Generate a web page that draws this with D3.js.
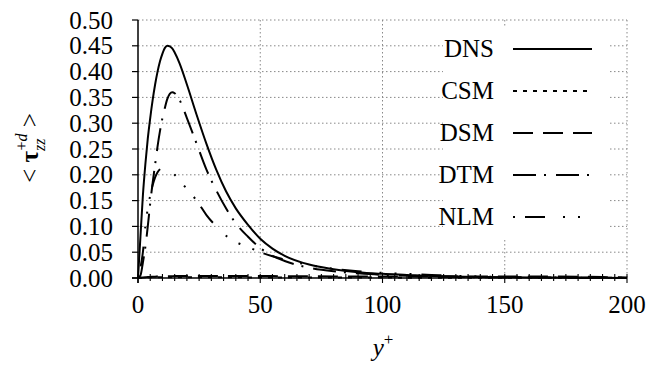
<!DOCTYPE html>
<html><head><meta charset="utf-8">
<script src="https://cdn.jsdelivr.net/npm/d3@7"></script>
</head><body style="margin:0">
<svg id="c" width="672" height="369"></svg>
<script>
const yPlus   = [0,1,2,3,4,5,6,7,8,9,10,11,12,13,14,15,17,20,24,28,32,36,40,45,50,55,60,70,80,90,100,110,120,130,140,150,160,170,180,190,200];
const dns     = [0,0.08,0.16,0.22,0.27,0.31,0.345,0.375,0.40,0.42,0.435,0.446,0.45,0.449,0.445,0.437,0.416,0.375,0.316,0.26,0.21,0.168,0.135,0.103,0.076,0.057,0.043,0.026,0.017,0.011,0.008,0.006,0.004,0.003,0.002,0.0015,0.001,0.0008,0.0005,0.0003,0];
const csm     = [0,0.0005,0.0008,0.001,0.0012,0.0013,0.0014,0.0015,0.0015,0.0015,0.0015,0.0015,0.0015,0.0015,0.0015,0.0015,0.0015,0.0015,0.0015,0.0014,0.0014,0.0013,0.0013,0.0012,0.0011,0.001,0.001,0.0009,0.0009,0.0008,0.0008,0.0007,0.0007,0.0006,0.0006,0.0005,0.0005,0.0004,0.0004,0.0003,0.0003];
const dsm     = [0,0.0005,0.001,0.0015,0.002,0.002,0.0025,0.0025,0.003,0.003,0.003,0.0032,0.0034,0.0035,0.0036,0.0037,0.0038,0.004,0.004,0.004,0.004,0.004,0.004,0.0039,0.0038,0.0037,0.0035,0.0033,0.0031,0.003,0.003,0.003,0.003,0.003,0.003,0.003,0.003,0.0028,0.0024,0.0018,0.001];
const dtm     = [0,0.005,0.03,0.06,0.10,0.145,0.185,0.22,0.255,0.285,0.31,0.33,0.347,0.357,0.36,0.358,0.345,0.31,0.26,0.21,0.17,0.135,0.106,0.08,0.058,0.043,0.033,0.02,0.013,0.009,0.006,0.0045,0.003,0.0022,0.0015,0.0012,0.001,0.0008,0.0005,0.0003,0];
const nlm     = [0,0.02,0.05,0.10,0.135,0.16,0.18,0.195,0.205,0.211,0.215,0.216,0.214,0.21,0.205,0.20,0.19,0.172,0.15,0.122,0.10,0.082,0.07,0.06,0.05,0.042,0.036,0.025,0.018,0.013,0.01,0.008,0.006,0.004,0.003,0.002,0.0015,0.001,0.0007,0.0004,0];
const seriesNames = ["DNS","CSM","DSM","DTM","NLM"];
const seriesData  = [dns, csm, dsm, dtm, nlm];
const seriesDash  = [null,"4,6","20,10","23,8,2,10","2,10,20,18,2,13,2,13"];
const xTicks = [0,50,100,150,200];
const xMinor = d3.range(0,201,5);
const yTicks = [0,0.05,0.10,0.15,0.20,0.25,0.30,0.35,0.40,0.45,0.50];

const FONT = '"Times New Roman"';
const svg = d3.select("#c");
const L=138,R=627,T=20,B=278;
const x = d3.scaleLinear().domain([0,200]).range([L,R]);
const y = d3.scaleLinear().domain([0,0.5]).range([B,T]);

// grid
const g = svg.append("g");
g.selectAll(".hg").data(yTicks.slice(1)).join("line")
 .attr("x1",L).attr("x2",R).attr("y1",d=>y(d)).attr("y2",d=>y(d))
 .attr("stroke","#888").attr("stroke-width",1).attr("stroke-dasharray","1.5,2.5");
g.selectAll(".vg").data(xTicks.slice(1)).join("line")
 .attr("x1",d=>x(d)).attr("x2",d=>x(d)).attr("y1",T).attr("y2",B)
 .attr("stroke","#888").attr("stroke-width",1).attr("stroke-dasharray","1.5,2.5");

// legend background
svg.append("rect").attr("x",443).attr("y",28).attr("width",167).attr("height",212).attr("fill","#fff");

// curves
const line = d3.line().x((d,i)=>x(yPlus[i])).y(d=>y(d)).curve(d3.curveMonotoneX);
seriesData.forEach((s,k)=>{
  svg.append("path").attr("d",line(s)).attr("fill","none").attr("stroke","#000")
   .attr("stroke-width",2).attr("stroke-dasharray",seriesDash[k]);
});

// axes
svg.append("line").attr("x1",L).attr("x2",L).attr("y1",T).attr("y2",B+5).attr("stroke","#000").attr("stroke-width",1.5);
svg.append("line").attr("x1",L-6).attr("x2",R).attr("y1",B).attr("y2",B).attr("stroke","#000").attr("stroke-width",1.5);
svg.selectAll(".yt").data(yTicks).join("line")
 .attr("x1",L-6).attr("x2",L).attr("y1",d=>y(d)).attr("y2",d=>y(d)).attr("stroke","#000").attr("stroke-width",1.2);
svg.selectAll(".xm").data(xMinor).join("line")
 .attr("x1",d=>x(d)).attr("x2",d=>x(d)).attr("y1",B-4).attr("y2",d=>xTicks.includes(d)?B+5:B+3)
 .attr("stroke","#000").attr("stroke-width",1.1);

svg.selectAll(".yl").data(yTicks).join("text")
 .attr("x",113).attr("y",d=>y(d)).attr("dy","0.34em").attr("text-anchor","end")
 .attr("font-size",25).style("font-family",FONT).text(d=>d3.format(".2f")(d));
svg.selectAll(".xl").data(xTicks).join("text")
 .attr("x",d=>x(d)).attr("y",313).attr("text-anchor","middle")
 .attr("font-size",25).style("font-family",FONT).text(d=>d);

// x label
const xl = svg.append("text").attr("x",383).attr("y",356).attr("text-anchor","middle").attr("font-size",25).style("font-family",FONT);
xl.append("tspan").attr("font-style","italic").text("y");
xl.append("tspan").attr("font-size",17).attr("dy",-11).text("+");

// y label
const yl = svg.append("text").attr("transform","translate(38,148) rotate(-90)").attr("text-anchor","middle").attr("font-size",25).style("font-family",FONT);
yl.append("tspan").text("< ");
yl.append("tspan").attr("font-weight","bold").text("τ");
yl.append("tspan").attr("font-size",16).attr("font-style","italic").attr("dy",7).text("zz");
yl.append("tspan").attr("font-size",16).attr("dx",-12).attr("dy",-18).text("+");
yl.append("tspan").attr("font-size",16).attr("font-style","italic").text("d");
yl.append("tspan").attr("dy",11).text(" >");

// legend
seriesNames.forEach((n,k)=>{
  const ly = 49 + k*42;
  svg.append("text").attr("x",494).attr("y",ly+8).attr("text-anchor","end").attr("font-size",25).style("font-family",FONT).text(n);
  svg.append("line").attr("x1",513).attr("x2",592).attr("y1",ly).attr("y2",ly)
   .attr("stroke","#000").attr("stroke-width",2).attr("stroke-dasharray",seriesDash[k]);
});
</script>
</body></html>
